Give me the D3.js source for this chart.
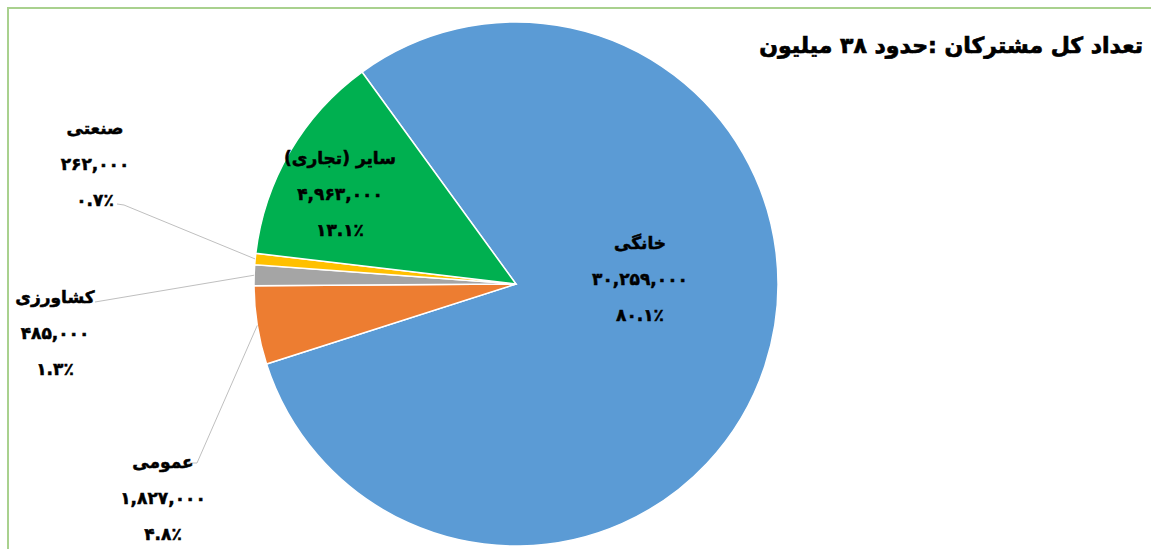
<!DOCTYPE html>
<html>
<head>
<meta charset="utf-8">
<script src="https://cdn.jsdelivr.net/npm/d3@7"></script>
<style>
  body { margin: 0; background: #fff; }
  svg { display: block; }
  .lbl { font-family: "DejaVu Sans", sans-serif; font-weight: bold; fill: #000; stroke: #000; stroke-width: 0.5px; }
</style>
</head>
<body>
<svg id="chart" width="1151" height="549"></svg>
<script>
// data
var categories = ["خانگی", "عمومی", "کشاورزی", "صنعتی", "سایر (تجاری)"];
var values = [30259000, 1827000, 485000, 262000, 4963000];
var colors = ["#5b9bd5", "#ed7d31", "#a5a5a5", "#ffc000", "#00b050"];
var title = "تعداد کل مشترکان :حدود ۳۸ میلیون";

// where each label sits (Excel labels were dragged by hand), inside flag
var labelPos = [
    {x: 640, y: 243, inside: true},
    {x: 163, y: 462, inside: false, line: [[188, 463], [197, 463]]},
    {x: 55, y: 297, inside: false, line: [[95, 302]]},
    {x: 95, y: 128, inside: false, line: [[117, 204], [124, 205]]},
    {x: 340, y: 158, inside: true}
];

var width = 1151, height = 549;
var cx = 516, cy = 284, radius = 262;
var startDeg = -36;

var svg = d3.select("#chart");

// green frame
svg.append("rect")
    .attr("x", 8).attr("y", 8)
    .attr("width", 1160).attr("height", 600)
    .attr("fill", "none")
    .attr("stroke", "#a9d18e")
    .attr("stroke-width", 2);

var fa = function(s) {
    return s.replace(/[0-9]/g, function(d) { return "۰۱۲۳۴۵۶۷۸۹"[+d]; });
};
var total = d3.sum(values);
var fmtNum = d3.format(",");

var pie = d3.pie()
    .sort(null)
    .startAngle(startDeg * Math.PI / 180)
    .endAngle(startDeg * Math.PI / 180 + 2 * Math.PI);
var arcs = pie(values);

var arc = d3.arc().innerRadius(0).outerRadius(radius);

var g = svg.append("g").attr("transform", "translate(" + cx + "," + cy + ")");

g.selectAll("path.slice")
    .data(arcs)
    .enter()
    .append("path")
    .attr("class", "slice")
    .attr("d", arc)
    .attr("fill", (d, i) => colors[i])
    .attr("stroke", "#fff")
    .attr("stroke-width", 1.5);

// leader lines: from label to the middle of the slice edge
arcs.forEach(function(d, i) {
    var p = labelPos[i];
    if (p.inside) return;
    var mid = (d.startAngle + d.endAngle) / 2;
    var end = [cx + radius * Math.sin(mid), cy - radius * Math.cos(mid)];
    var pts = p.line.concat([end]);
    svg.append("path")
        .attr("d", d3.line()(pts))
        .attr("fill", "none")
        .attr("stroke", "#bfbfbf")
        .attr("stroke-width", 1);
});

// labels
arcs.forEach(function(d, i) {
    var p = labelPos[i];
    var pct = (values[i] / total * 100).toFixed(1);
    var lines = [categories[i], fa(fmtNum(values[i])), fa(pct) + "٪"];
    var t = svg.append("text")
        .attr("class", "lbl")
        .attr("text-anchor", "middle")
        .style("font-size", "17px");
    lines.forEach(function(s, k) {
        t.append("tspan")
            .attr("x", p.x)
            .attr("y", p.y + 6 + k * 36)
            .attr("direction", k == 0 ? "rtl" : "ltr")
            .text(s);
    });
});

// title
svg.append("text")
    .attr("class", "lbl")
    .attr("x", 1143)
    .attr("y", 53)
    .attr("direction", "rtl")
    .attr("text-anchor", "start")
    .style("font-size", "22px")
    .style("stroke-width", "0.7px")
    .text(title);
</script>
</body>
</html>
